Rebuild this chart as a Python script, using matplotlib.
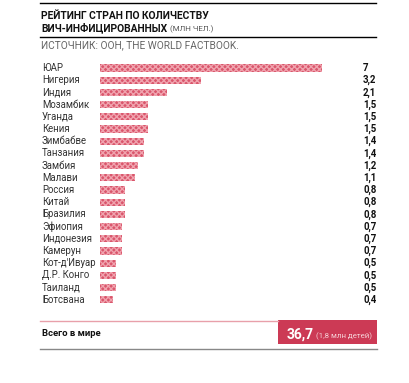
import matplotlib
matplotlib.use("Agg")
import matplotlib.pyplot as plt
from matplotlib.patches import Rectangle
from matplotlib.lines import Line2D

countries = ["ЮАР", "Нигерия", "Индия", "Мозамбик", "Уганда", "Кения", "Зимбабве",
             "Танзания", "Замбия", "Малави", "Россия", "Китай", "Бразилия", "Эфиопия",
             "Индонезия", "Камерун", "Кот-д'Ивуар", "Д.Р. Конго", "Таиланд", "Ботсвана"]
values = [7, 3.2, 2.1, 1.5, 1.5, 1.5, 1.4, 1.4, 1.2, 1.1, 0.8, 0.8, 0.8, 0.7, 0.7,
          0.7, 0.5, 0.5, 0.5, 0.4]
value_labels = ["7", "3,2", "2,1", "1,5", "1,5", "1,5", "1,4", "1,4", "1,2", "1,1",
                "0,8", "0,8", "0,8", "0,7", "0,7", "0,7", "0,5", "0,5", "0,5", "0,4"]
total_label = "36,7"
total_note = "(1,8 млн детей)"

W, H = 409, 383
plt.rcParams['font.family'] = ['Roboto', 'DejaVu Sans']
fig = plt.figure(figsize=(W / 100, H / 100), dpi=100)
renderer = fig.canvas.get_renderer()

def fx(px):
    return px / W

def fy(py):
    return 1 - py / H

def right_px(t):
    return t.get_window_extent(renderer=renderer).x1

def fit(t, target_px):
    w = t.get_window_extent(renderer=renderer).width
    t.set_fontsize(t.get_fontsize() * target_px / w)

# Header lines
fig.add_artist(Line2D([fx(40), fx(376)], [fy(3), fy(3)], color='black', lw=1.0))
fig.add_artist(Line2D([fx(40), fx(376)], [fy(37), fy(37)], color='black', lw=1.0))
t1 = fig.text(fx(41), fy(19), "РЕЙТИНГ СТРАН ПО КОЛИЧЕСТВУ", fontsize=7.4, fontweight='bold',
              va='baseline', ha='left', color='#111111')
t2 = fig.text(fx(41), fy(31), "ВИЧ-ИНФИЦИРОВАННЫХ", fontsize=7.4, fontweight='bold',
              va='baseline', ha='left', color='#111111')
t3 = fig.text((right_px(t2) + 3) / W, fy(31), "(МЛН ЧЕЛ.)", fontsize=5.8, va='baseline',
              ha='left', color='#555555')
t4 = fig.text(fx(41), fy(45), "ИСТОЧНИК: ООН, THE WORLD FACTBOOK.", fontsize=6.6, va='center',
              ha='left', color='#666666')
fit(t4, 196)

# Bars axes
row_h = 12.2
n = len(countries)
top_px = 68 - row_h / 2
bot_px = top_px + n * row_h
ax_left, ax_right = 100, 376
ax = fig.add_axes([fx(ax_left), fy(bot_px), (ax_right - ax_left) / W, (bot_px - top_px) / H])
ax.set_xlim(0, (ax_right - ax_left) / 31.7)
ax.set_ylim(n - 0.5, -0.5)
ys = list(range(n))
ax.barh(ys, values, height=0.6, color='#d9566c', edgecolor='#f0a3ae', hatch='xxxxxx', lw=0)
ax.axis('off')

for y, c, vl in zip(ys, countries, value_labels):
    ax.text((42 - ax_left) / (ax_right - ax_left), y, c, transform=ax.get_yaxis_transform(),
            ha='left', va='center', fontsize=6.9, color='#333333')
    ax.text((363 - ax_left) / (ax_right - ax_left), y, vl, transform=ax.get_yaxis_transform(),
            ha='left', va='center', fontsize=6.9, fontweight='bold', color='#111111')

# Bottom total
fig.add_artist(Line2D([fx(40), fx(278)], [fy(320.5), fy(320.5)], color='#e8a0aa', lw=1.0))
fig.add_artist(Rectangle((fx(278), fy(344)), fx(377) - fx(278), fy(320) - fy(344),
                         facecolor='#cc3a55', edgecolor='none', transform=fig.transFigure))
fig.add_artist(Line2D([fx(40), fx(377)], [fy(349), fy(349)], color='#888888', lw=1.0))
fig.text(fx(42), fy(333), "Всего в мире", fontsize=6.8, fontweight='bold', va='center',
         ha='left', color='#111111')
t5 = fig.text(fx(287), fy(338.5), total_label, fontsize=10, fontweight='bold',
              va='baseline', ha='left', color='white')
note_x = right_px(t5) + 2
t6 = fig.text(note_x / W, fy(338.5), total_note, fontsize=6.2, va='baseline', ha='left',
              color='#f5d0d6')
fit(t6, 372 - note_x)

fig.savefig("out.png", dpi=100)
